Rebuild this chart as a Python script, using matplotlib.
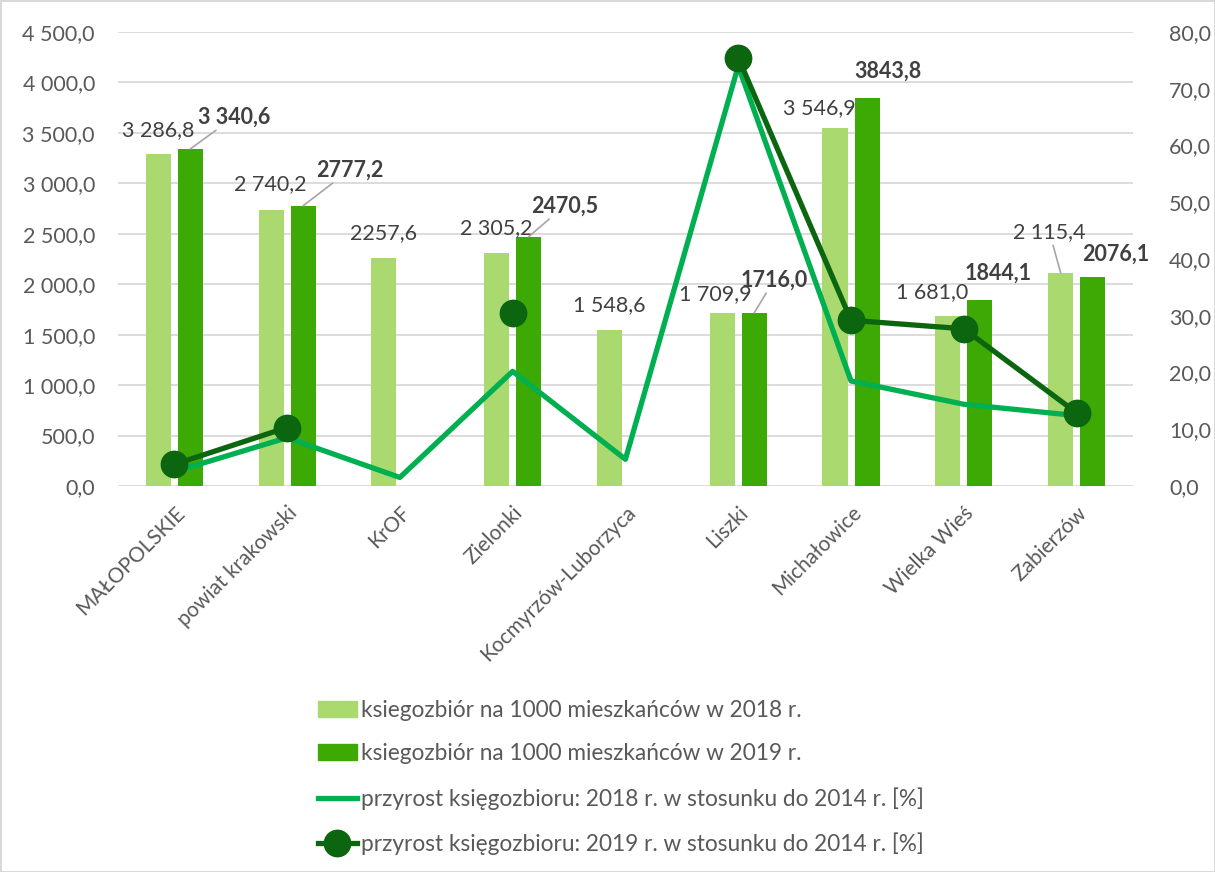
import matplotlib.pyplot as plt
import numpy as np
from matplotlib.patches import Patch
from matplotlib.lines import Line2D

plt.rcParams['font.family'] = ['Lato', 'DejaVu Sans']

# data
gminy = ['MAŁOPOLSKIE', 'powiat krakowski', 'KrOF', 'Zielonki', 'Kocmyrzów-Luborzyca',
         'Liszki', 'Michałowice', 'Wielka Wieś', 'Zabierzów']
ks2018 = [3286.8, 2740.2, 2257.6, 2305.2, 1548.6, 1709.9, 3546.9, 1681.0, 2115.4]
ks2019 = [3340.6, 2777.2, np.nan, 2470.5, np.nan, 1716.0, 3843.8, 1844.1, 2076.1]
przyrost2018 = [2.5, 8.5, 1.5, 20.2, 4.7, 74.0, 18.5, 14.4, 12.4]
przyrost2019 = [3.8, 10.3, np.nan, 30.5, np.nan, 75.5, 29.2, 27.7, 12.9]
etyk2018 = ['3 286,8', '2 740,2', '2257,6', '2 305,2', '1 548,6', '1 709,9', '3 546,9', '1 681,0', '2 115,4']
etyk2019 = ['3 340,6', '2777,2', '', '2470,5', '', '1716,0', '3843,8', '1844,1', '2076,1']

# label offsets in pixels (dx, dy) and leader lines
off2018 = [(0, 24), (-1, 25), (0, 25), (0, 25), (0, 25), (-7, 19), (-16, 20), (-16, 24), (-11, 40)]
lead2018 = [False] * 8 + [True]
off2019 = [(44, 32), (47, 36), (0, 0), (36, 31), (0, 0), (20, 33), (21, 27), (18, 27), (23, 22)]
lead2019 = [True, True, False, True, False, True, False, False, False]

c_light = '#a9d96f'
c_dark = '#3da905'
c_line18 = '#00b050'
c_line19 = '#0c650f'
txt = '#595959'
fs = 15.5

fig = plt.figure(figsize=(12.15, 8.72), dpi=100)
fig.patch.set_edgecolor('#d9d9d9')
fig.patch.set_linewidth(2)
ax = fig.add_axes([0.097, 0.4427, 0.8355, 0.5206])
ax2 = ax.twinx()

x = np.arange(len(gminy))
w = 0.222
d = 0.142
ax.bar(x - d, ks2018, w, color=c_light, zorder=2)
ax.bar(x + d, ks2019, w, color=c_dark, zorder=2)

ax.set_xlim(-0.5, 8.5)
ax.set_ylim(0, 4500)
ax.set_yticks(np.arange(0, 4501, 500))
ax.set_yticklabels([f'{v:,.1f}'.replace(',', ' ').replace('.', ',') for v in np.arange(0, 4501, 500)])
ax.grid(axis='y', color='#d9d9d9', lw=1.3, zorder=0)
ax.set_axisbelow(True)
ax2.set_ylim(0, 80)
ax2.set_yticks(np.arange(0, 81, 10))
ax2.set_yticklabels([f'{v:.1f}'.replace('.', ',') for v in np.arange(0, 81, 10)])

for a in (ax, ax2):
    for s in a.spines.values():
        s.set_visible(False)
    a.tick_params(length=0, labelsize=fs, colors=txt)
ax.tick_params(axis='y', pad=16.5)
ax2.tick_params(axis='y', pad=26)
ax.set_xticks(x)
ax.set_xticklabels(gminy, rotation=45, ha='right', rotation_mode='anchor', fontsize=15)
ax.tick_params(axis='x', pad=12)

ax2.plot(x, przyrost2018, color=c_line18, lw=3.8, zorder=3)
ax2.plot(x, przyrost2019, color=c_line19, lw=3.8, marker='o', ms=19, zorder=4)

for i in range(len(gminy)):
    ap = dict(arrowstyle='-', color='#a6a6a6', lw=1.2, shrinkA=0, shrinkB=0) if lead2018[i] else None
    ax.annotate(etyk2018[i], (x[i] - d, ks2018[i]), xytext=off2018[i], textcoords='offset pixels',
                ha='center', va='center', fontsize=fs, color='#404040', arrowprops=ap, zorder=5)
    if etyk2019[i]:
        ap = dict(arrowstyle='-', color='#a6a6a6', lw=1.2, shrinkA=0, shrinkB=0) if lead2019[i] else None
        ax.annotate(etyk2019[i], (x[i] + d, ks2019[i]), xytext=off2019[i], textcoords='offset pixels',
                    ha='center', va='center', fontsize=fs, fontweight='bold', color='#404040',
                    arrowprops=ap, zorder=5)

handles = [Patch(color=c_light), Patch(color=c_dark),
           Line2D([], [], color=c_line18, lw=3.8),
           Line2D([], [], color=c_line19, lw=3.8, marker='o', ms=19)]
labels = ['ksiegozbiór na 1000 mieszkańców w 2018 r.',
          'ksiegozbiór na 1000 mieszkańców w 2019 r.',
          'przyrost księgozbioru: 2018 r. w stosunku do 2014 r. [%]',
          'przyrost księgozbioru: 2019 r. w stosunku do 2014 r. [%]']
leg = fig.legend(handles, labels, loc='upper left', bbox_to_anchor=(0.245, 0.221), frameon=False,
                 fontsize=16.3, labelspacing=1.0, handlelength=1.7, handletextpad=0.2,
                 labelcolor=txt)
ax.set_zorder(ax2.get_zorder() - 1)
ax2.patch.set_visible(False)
ax.patch.set_visible(False)

plt.savefig('out.png', dpi=100)
